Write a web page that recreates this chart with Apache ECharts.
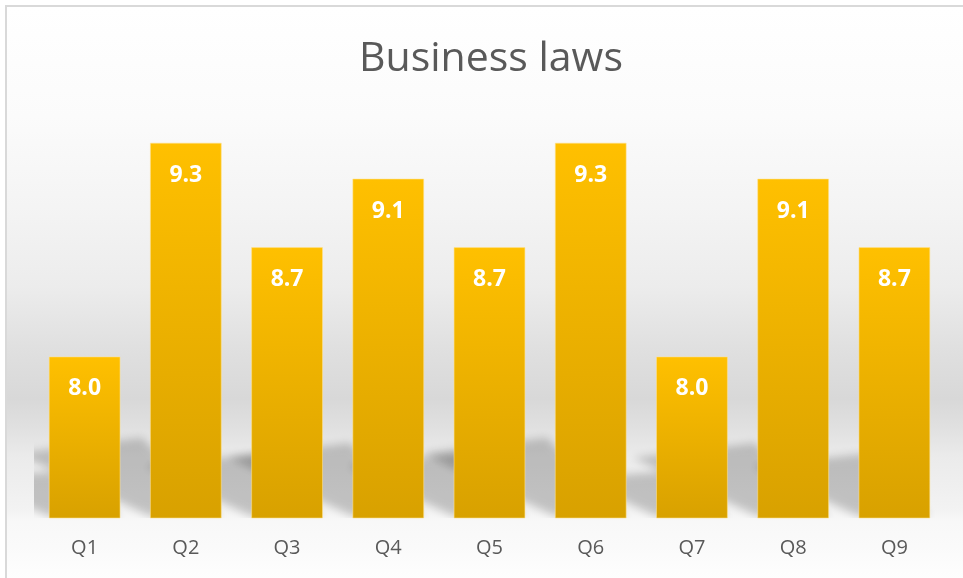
<!DOCTYPE html>
<html>
<head>
<meta charset="utf-8">
<script src="https://cdn.jsdelivr.net/npm/echarts@6/dist/echarts.min.js"></script>
<style>
  html, body { margin: 0; padding: 0; background: #ffffff; overflow: hidden; }
  #wrap { position: relative; width: 963px; height: 578px; overflow: hidden; }
  #bg {
    position: absolute; left: 5px; top: 5px; width: 1000px; height: 620px;
    border: 2px solid #d9d9d9; box-sizing: border-box;
    background: linear-gradient(to bottom,
      #ffffff 0px, #fbfbfb 110px, #f4f4f4 200px, #ececec 280px, #e0e0e0 340px,
      #d8d8d8 392px, #e0e0e0 420px, #ebebeb 450px, #efefef 480px, #f3f3f3 505px,
      #f8f8f8 515px, #fafafa 540px, #ffffff 580px);
  }
  #chart { position: absolute; left: 0; top: 0; width: 963px; height: 578px; }
</style>
</head>
<body>
<div id="wrap">
  <div id="bg"></div>
  <div id="chart"></div>
</div>
<script>
const titleText = 'Business laws';
const categories = ['Q1', 'Q2', 'Q3', 'Q4', 'Q5', 'Q6', 'Q7', 'Q8', 'Q9'];
const values = [7.99, 9.30, 8.66, 9.08, 8.66, 9.30, 7.99, 9.08, 8.66];
const axisMin = 7;
const axisMax = 9.5;

const chart = echarts.init(document.getElementById('chart'), null, { renderer: 'canvas' });

const shadowData = values.map((v, i) => [i, v]);
const OFF = 3000;

const option = {
  backgroundColor: 'transparent',
  animation: false,
  title: {
    text: titleText,
    left: 486,
    top: 34,
    textAlign: 'center',
    textStyle: {
      fontFamily: 'Open Sans',
      fontSize: 41,
      fontWeight: 'normal',
      color: '#595959'
    }
  },
  grid: { left: 34, right: 18, top: 110, bottom: 60 },
  xAxis: {
    type: 'category',
    data: categories,
    axisLine: { show: false },
    axisTick: { show: false },
    axisLabel: {
      margin: 20,
      fontFamily: 'Open Sans',
      fontSize: 20,
      color: '#595959'
    }
  },
  yAxis: {
    type: 'value',
    min: axisMin,
    max: axisMax,
    show: false,
    splitLine: { show: false }
  },
  series: [
    {
      type: 'custom',
      z: 1,
      clip: true,
      silent: true,
      data: shadowData,
      renderItem: function (params, api) {
        const i = api.value(0);
        const v = api.value(1);
        const base = api.coord([i, axisMin]);
        const top = api.coord([i, v]);
        const bw = api.size([1, 0])[0] * 0.71;
        const x0 = base[0] - bw / 2;
        const x1 = base[0] + bw / 2;
        const h = base[1] - top[1];
        const hs = 0.15 * h + 22;
        const dx = hs * 1.7;
        const by = base[1] - 2;
        return {
          type: 'polygon',
          shape: {
            points: [
              [x0 - OFF, by],
              [x1 - OFF, by],
              [x1 - dx * 0.6 - OFF, by - hs],
              [x0 - dx - OFF, by - hs * 0.8]
            ]
          },
          style: {
            fill: 'rgba(0,0,0,1)',
            shadowBlur: 9,
            shadowOffsetX: OFF,
            shadowOffsetY: 0,
            shadowColor: 'rgba(0,0,0,0.2)'
          }
        };
      }
    },
    {
      type: 'bar',
      z: 2,
      data: values,
      barCategoryGap: '29%',
      itemStyle: {
        color: new echarts.graphic.LinearGradient(0, 0, 0, 1, [
          { offset: 0, color: '#FFC000' },
          { offset: 1, color: '#D8A100' }
        ]),
        borderColor: 'rgba(255,225,140,0.55)',
        borderWidth: 1
      },
      label: {
        show: true,
        position: 'insideTop',
        distance: 21,
        formatter: function (p) { return p.value.toFixed(1); },
        fontFamily: 'Open Sans',
        fontWeight: 'bold',
        fontSize: 23,
        color: '#ffffff'
      }
    }
  ]
};

chart.setOption(option);
</script>
</body>
</html>
